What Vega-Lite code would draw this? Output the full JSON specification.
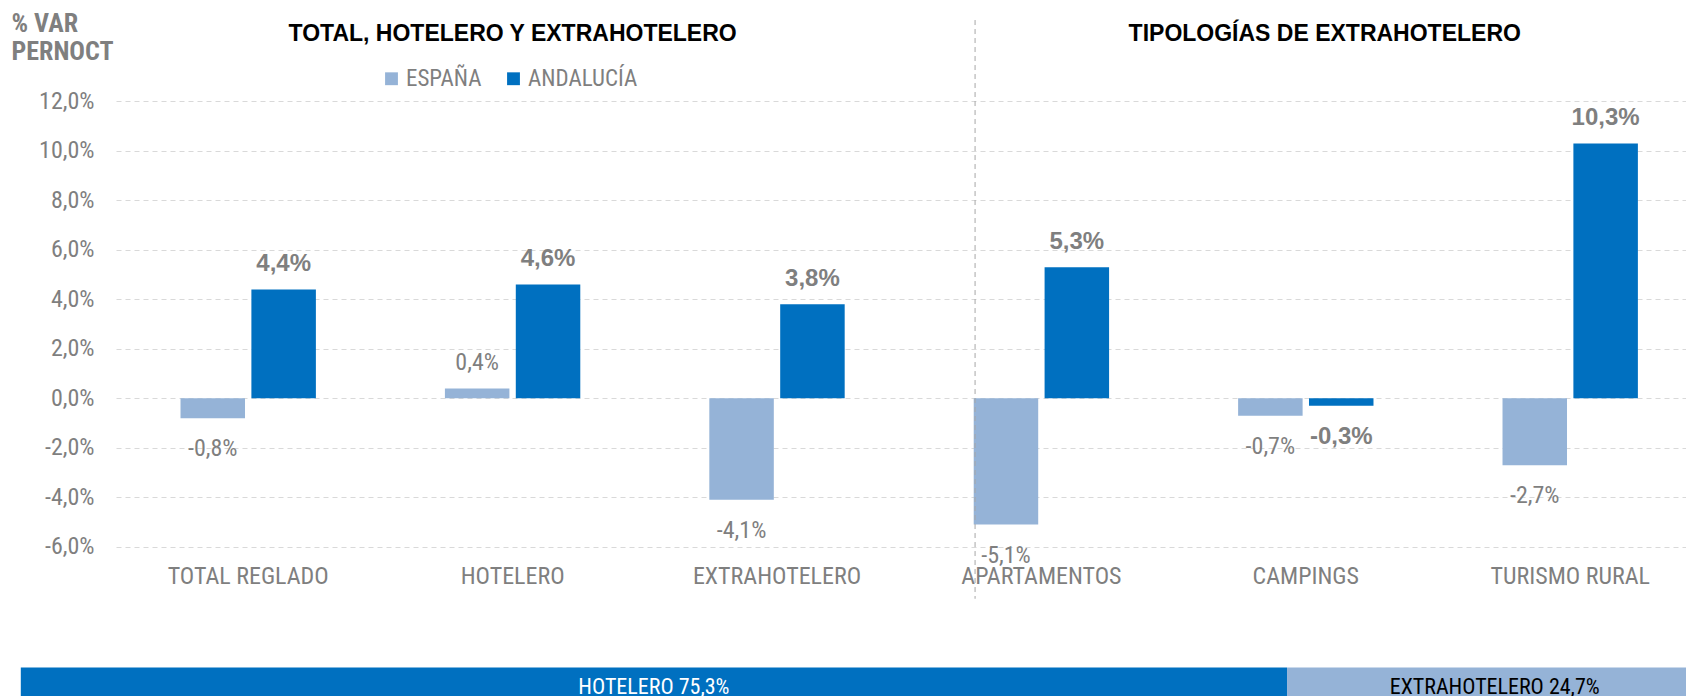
{
  "$schema": "https://vega.github.io/schema/vega-lite/v6.json",
  "autosize": {"type": "none"},
  "padding": {"left": 116, "top": 0, "right": 0, "bottom": 0},
  "width": 1570,
  "height": 696,
  "background": "white",
  "config": {
    "view": {"stroke": null},
    "locale": {"number": {"decimal": ",", "thousands": ".", "grouping": [3], "currency": ["", " €"], "minus": "-"}}
  },
  "datasets": {
    "var": [
      {"cat": "TOTAL REGLADO", "serie": "ESPAÑA", "v": -0.008},
      {"cat": "TOTAL REGLADO", "serie": "ANDALUCÍA", "v": 0.044},
      {"cat": "HOTELERO", "serie": "ESPAÑA", "v": 0.004},
      {"cat": "HOTELERO", "serie": "ANDALUCÍA", "v": 0.046},
      {"cat": "EXTRAHOTELERO", "serie": "ESPAÑA", "v": -0.041},
      {"cat": "EXTRAHOTELERO", "serie": "ANDALUCÍA", "v": 0.038},
      {"cat": "APARTAMENTOS", "serie": "ESPAÑA", "v": -0.051},
      {"cat": "APARTAMENTOS", "serie": "ANDALUCÍA", "v": 0.053},
      {"cat": "CAMPINGS", "serie": "ESPAÑA", "v": -0.007},
      {"cat": "CAMPINGS", "serie": "ANDALUCÍA", "v": -0.003},
      {"cat": "TURISMO RURAL", "serie": "ESPAÑA", "v": -0.027},
      {"cat": "TURISMO RURAL", "serie": "ANDALUCÍA", "v": 0.103}
    ],
    "cuota": [
      {"seg": "HOTELERO", "orden": 1, "share": 0.753, "label": "HOTELERO 75,3%"},
      {"seg": "EXTRAHOTELERO", "orden": 2, "share": 0.247, "label": "EXTRAHOTELERO 24,7%"}
    ]
  },
  "layer": [
    {
      "data": {"name": "var"},
      "layer": [
        {
          "mark": {"type": "bar"},
          "encoding": {
            "x": {
              "field": "cat", "type": "nominal", "axis": null,
              "scale": {
                "domain": ["TOTAL REGLADO", "HOTELERO", "EXTRAHOTELERO", "APARTAMENTOS", "CAMPINGS", "TURISMO RURAL"],
                "range": [0, 1586.4], "paddingInner": 0.488, "paddingOuter": 0.244
              }
            },
            "xOffset": {
              "field": "serie", "type": "nominal",
              "scale": {"domain": ["ESPAÑA", "ANDALUCÍA"], "paddingInner": 0.09, "paddingOuter": 0}
            },
            "y": {
              "field": "v", "type": "quantitative",
              "scale": {"domain": [-0.1203, 0.161], "nice": false, "zero": false},
              "axis": {
                "values": [-0.06, -0.04, -0.02, 0, 0.02, 0.04, 0.06, 0.08, 0.1, 0.12],
                "format": ".1%",
                "domain": false, "ticks": false,
                "grid": true, "gridColor": "#D9D9D9", "gridDash": [5, 4], "gridWidth": 1,
                "labelFont": "'Liberation Sans Narrow', 'Arial Narrow', 'Roboto Condensed', 'DejaVu Sans Condensed', sans-serif",
                "labelFontSize": 24, "labelColor": "#7F7F7F", "labelPadding": 22,
                "title": ["% VAR", "PERNOCT"],
                "titleFont": "'Liberation Sans Narrow', 'Arial Narrow', 'Roboto Condensed', 'DejaVu Sans Condensed', sans-serif",
                "titleFontWeight": "bold", "titleFontSize": 26, "titleColor": "#7F7F7F",
                "titleAngle": 0, "titleAlign": "left", "titleBaseline": "alphabetic",
                "titleX": -105, "titleY": 31, "titleLineHeight": 28
              }
            },
            "color": {
              "field": "serie", "type": "nominal",
              "scale": {"domain": ["ESPAÑA", "ANDALUCÍA"], "range": ["#95B3D7", "#0070C0"]},
              "legend": {
                "orient": "none", "legendX": 264, "legendY": 67, "direction": "horizontal",
                "title": null, "symbolType": "square", "symbolSize": 165, "symbolStrokeWidth": 0,
                "labelFont": "'Liberation Sans Narrow', 'Arial Narrow', 'Roboto Condensed', 'DejaVu Sans Condensed', sans-serif",
                "labelFontSize": 23, "labelColor": "#7F7F7F", "labelOffset": 3, "columnPadding": 20
              }
            }
          }
        },
        {
          "transform": [{"filter": "datum.serie === 'ESPAÑA' && datum.v >= 0"}],
          "mark": {"type": "text", "font": "'Liberation Sans Narrow', 'Arial Narrow', 'Roboto Condensed', 'DejaVu Sans Condensed', sans-serif", "fontSize": 24, "color": "#7F7F7F", "baseline": "middle", "dy": -25.5},
          "encoding": {
            "x": {"field": "cat", "type": "nominal", "axis": null},
            "xOffset": {"field": "serie", "type": "nominal"},
            "y": {"field": "v", "type": "quantitative"},
            "text": {"field": "v", "type": "quantitative", "format": ".1%"}
          }
        },
        {
          "transform": [{"filter": "datum.serie === 'ESPAÑA' && datum.v < 0"}],
          "mark": {"type": "text", "font": "'Liberation Sans Narrow', 'Arial Narrow', 'Roboto Condensed', 'DejaVu Sans Condensed', sans-serif", "fontSize": 24, "color": "#7F7F7F", "baseline": "middle", "dy": 31},
          "encoding": {
            "x": {"field": "cat", "type": "nominal", "axis": null},
            "xOffset": {"field": "serie", "type": "nominal"},
            "y": {"field": "v", "type": "quantitative"},
            "text": {"field": "v", "type": "quantitative", "format": ".1%"}
          }
        },
        {
          "transform": [{"filter": "datum.serie === 'ANDALUCÍA' && datum.v >= 0"}],
          "mark": {"type": "text", "font": "'Liberation Sans', Arial, sans-serif", "fontWeight": "bold", "fontSize": 24, "color": "#7F7F7F", "baseline": "middle", "dy": -25.5},
          "encoding": {
            "x": {"field": "cat", "type": "nominal", "axis": null},
            "xOffset": {"field": "serie", "type": "nominal"},
            "y": {"field": "v", "type": "quantitative"},
            "text": {"field": "v", "type": "quantitative", "format": ".1%"}
          }
        },
        {
          "transform": [{"filter": "datum.serie === 'ANDALUCÍA' && datum.v < 0"}],
          "mark": {"type": "text", "font": "'Liberation Sans', Arial, sans-serif", "fontWeight": "bold", "fontSize": 24, "color": "#7F7F7F", "baseline": "middle", "dy": 31},
          "encoding": {
            "x": {"field": "cat", "type": "nominal", "axis": null},
            "xOffset": {"field": "serie", "type": "nominal"},
            "y": {"field": "v", "type": "quantitative"},
            "text": {"field": "v", "type": "quantitative", "format": ".1%"}
          }
        },
        {
          "transform": [{"filter": "datum.serie === 'ESPAÑA'"}],
          "mark": {"type": "text", "font": "'Liberation Sans Narrow', 'Arial Narrow', 'Roboto Condensed', 'DejaVu Sans Condensed', sans-serif", "fontSize": 24, "color": "#7F7F7F", "baseline": "middle"},
          "encoding": {
            "x": {"field": "cat", "type": "nominal", "axis": null},
            "y": {"datum": -0.0722},
            "text": {"field": "cat", "type": "nominal"}
          }
        },
        {
          "data": {"values": [{}]},
          "mark": {"type": "rule", "color": "#A6A6A6", "strokeDash": [5, 4], "strokeWidth": 1},
          "encoding": {
            "x": {"datum": "APARTAMENTOS", "type": "nominal", "bandPosition": 0.01, "axis": null},
            "y": {"datum": 0.1529},
            "y2": {"datum": -0.081}
          }
        },
        {
          "data": {"values": [{}]},
          "mark": {"type": "text", "text": "TOTAL, HOTELERO Y EXTRAHOTELERO", "font": "'Liberation Sans', Arial, sans-serif", "fontWeight": "bold", "fontSize": 23, "color": "#000000", "baseline": "middle"},
          "encoding": {
            "x": {"datum": "HOTELERO", "type": "nominal", "axis": null},
            "y": {"datum": 0.1472}
          }
        },
        {
          "data": {"values": [{}]},
          "mark": {"type": "text", "text": "TIPOLOGÍAS DE EXTRAHOTELERO", "font": "'Liberation Sans', Arial, sans-serif", "fontWeight": "bold", "fontSize": 23, "color": "#000000", "baseline": "middle"},
          "encoding": {
            "x": {"datum": "CAMPINGS", "type": "nominal", "bandPosition": 0.64, "axis": null},
            "y": {"datum": 0.1472}
          }
        }
      ]
    },
    {
      "data": {"name": "cuota"},
      "transform": [{"stack": "share", "groupby": [], "sort": [{"field": "orden"}], "as": ["s0", "s1"]}],
      "layer": [
        {
          "mark": {"type": "rect"},
          "encoding": {
            "x": {"field": "s0", "type": "quantitative", "axis": null, "scale": {"domain": [0, 1], "range": [-95.2, 1586.4], "nice": false, "zero": false}},
            "x2": {"field": "s1"},
            "y": {"datum": -0.1088},
            "y2": {"datum": -0.135},
            "fill": {"condition": {"test": "datum.seg === 'HOTELERO'", "value": "#0070C0"}, "value": "#95B3D7"}
          }
        },
        {
          "transform": [
            {"fold": ["s0", "s1"], "as": ["borde", "pos"]},
            {"aggregate": [{"op": "mean", "field": "pos", "as": "mid"}], "groupby": ["seg", "label"]}
          ],
          "mark": {"type": "text", "font": "'Liberation Sans Narrow', 'Arial Narrow', 'Roboto Condensed', 'DejaVu Sans Condensed', sans-serif", "fontSize": 22, "baseline": "middle"},
          "encoding": {
            "x": {"field": "mid", "type": "quantitative", "axis": null},
            "y": {"datum": -0.1166},
            "text": {"field": "label", "type": "nominal"},
            "fill": {"condition": {"test": "datum.seg === 'HOTELERO'", "value": "#FFFFFF"}, "value": "#000000"}
          }
        }
      ]
    }
  ],
  "resolve": {"scale": {"x": "independent"}}
}
